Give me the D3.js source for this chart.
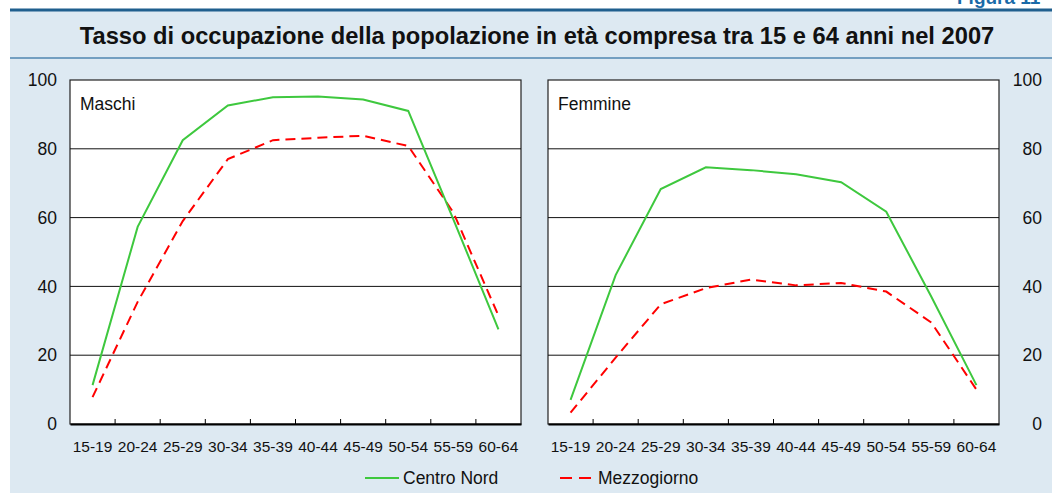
<!DOCTYPE html>
<html>
<head>
<meta charset="utf-8">
<script src="https://cdn.jsdelivr.net/npm/d3@7"></script>
<style>
  body { margin: 0; background: #fff; }
  text { font-family: "Liberation Sans", Arial, sans-serif; fill: #111; }
</style>
</head>
<body>
<script>
var svgWidth = 1052;
var svgHeight = 494;

// data
var ageGroups = ["15-19", "20-24", "25-29", "30-34", "35-39", "40-44", "45-49", "50-54", "55-59", "60-64"];
var maschiCentroNord = [11.3, 57.3, 82.5, 92.6, 95.0, 95.2, 94.3, 91.0, 59.5, 27.5];
var maschiMezzogiorno = [7.8, 35.5, 59.0, 77.0, 82.5, 83.2, 83.8, 80.8, 61.5, 31.5];
var femmineCentroNord = [7.0, 43.3, 68.3, 74.6, 73.8, 72.6, 70.3, 61.7, 37.0, 11.3];
var femmineMezzogiorno = [3.3, 19.3, 34.8, 39.5, 42.0, 40.3, 41.0, 38.5, 29.5, 10.0];
var yTicks = [0, 20, 40, 60, 80, 100];
var seriesNames = ["Centro Nord", "Mezzogiorno"];

var green = "#3ec83e";
var red = "#ff0000";

var svg = d3.select("body").append("svg")
  .attr("width", svgWidth)
  .attr("height", svgHeight);

// background panel
svg.append("rect").attr("x", 10).attr("y", 10).attr("width", svgWidth - 10).attr("height", svgHeight - 11)
  .attr("fill", "#dde9f2");
svg.append("rect").attr("x", 10).attr("y", 8.5).attr("width", svgWidth - 10).attr("height", 3)
  .attr("fill", "#1f5f8e");
svg.append("line").attr("x1", 10).attr("x2", svgWidth).attr("y1", 58).attr("y2", 58)
  .attr("stroke", "#4f86b0").attr("stroke-width", 1.5);

svg.append("text").attr("x", 957).attr("y", 4)
  .style("font-size", "19px").style("font-weight", "bold").style("fill", "#1a6aa8")
  .text("Figura 11");

svg.append("text").attr("x", 537).attr("y", 43.5).attr("text-anchor", "middle")
  .style("font-size", "23.7px").style("font-weight", "bold")
  .text("Tasso di occupazione della popolazione in età compresa tra 15 e 64 anni nel 2007");

var y = d3.scaleLinear().domain([0, 100]).range([424, 80]);

function drawPanel(x0, x1, label, cn, mz, side) {
  var x = d3.scaleBand().domain(ageGroups).range([x0, x1]);
  var g = svg.append("g");

  g.append("rect").attr("x", x0).attr("y", y(100)).attr("width", x1 - x0).attr("height", y(0) - y(100))
    .attr("fill", "#fff").attr("stroke", "#222").attr("stroke-width", 1.2);

  // grid lines
  g.selectAll(".grid").data(yTicks.slice(1, -1)).enter().append("line")
    .attr("x1", x0).attr("x2", x1)
    .attr("y1", d => y(d)).attr("y2", d => y(d))
    .attr("stroke", "#111").attr("stroke-width", 1);

  // y axis labels
  var yAxis = side === "left" ? d3.axisLeft(y) : d3.axisRight(y);
  var ya = g.append("g")
    .attr("transform", side === "left" ? "translate(" + (x0 - 13) + ",0)" : "translate(" + (x1 + 43) + ",0)")
    .call(yAxis.tickValues(yTicks).tickSize(0).tickPadding(0));
  ya.select(".domain").remove();
  ya.selectAll("text").style("font-size", "17.5px").attr("text-anchor", "end")
    .attr("font-family", null);

  // x axis
  var xa = g.append("g").attr("transform", "translate(0," + y(0) + ")")
    .call(d3.axisBottom(x).tickSize(0).tickPadding(17));
  xa.select(".domain").attr("stroke", "#000").attr("stroke-width", 2.2);
  xa.selectAll("text").style("font-size", "15.5px").attr("font-family", null);

  // ticks at band boundaries, pointing up
  g.selectAll(".btick").data(ageGroups.slice(1)).enter().append("line")
    .attr("x1", d => x(d)).attr("x2", d => x(d))
    .attr("y1", y(0)).attr("y2", y(0) - 5)
    .attr("stroke", "#000").attr("stroke-width", 1);

  g.append("text").attr("x", x0 + 10).attr("y", y(100) + 30)
    .style("font-size", "17.5px").text(label);

  var line = d3.line()
    .x((d, i) => x(ageGroups[i]) + x.bandwidth() / 2)
    .y(d => y(d));

  g.append("path").datum(mz).attr("d", line)
    .attr("fill", "none").attr("stroke", red).attr("stroke-width", 2)
    .attr("stroke-dasharray", "10,6");
  g.append("path").datum(cn).attr("d", line)
    .attr("fill", "none").attr("stroke", green).attr("stroke-width", 2);
}

drawPanel(70, 521, "Maschi", maschiCentroNord, maschiMezzogiorno, "left");
drawPanel(548, 999, "Femmine", femmineCentroNord, femmineMezzogiorno, "right");

// legend
var legend = svg.append("g");
var legX = [365, 560];
legend.selectAll("line").data(seriesNames).enter().append("line")
  .attr("x1", (d, i) => legX[i]).attr("x2", (d, i) => legX[i] + 34)
  .attr("y1", 478).attr("y2", 478)
  .attr("stroke", (d, i) => i === 0 ? green : red)
  .attr("stroke-width", 2)
  .attr("stroke-dasharray", (d, i) => i === 0 ? null : "12,7");
legend.selectAll("text").data(seriesNames).enter().append("text")
  .attr("x", (d, i) => legX[i] + 38).attr("y", 484)
  .style("font-size", "17.5px").text(d => d);
</script>
</body>
</html>
